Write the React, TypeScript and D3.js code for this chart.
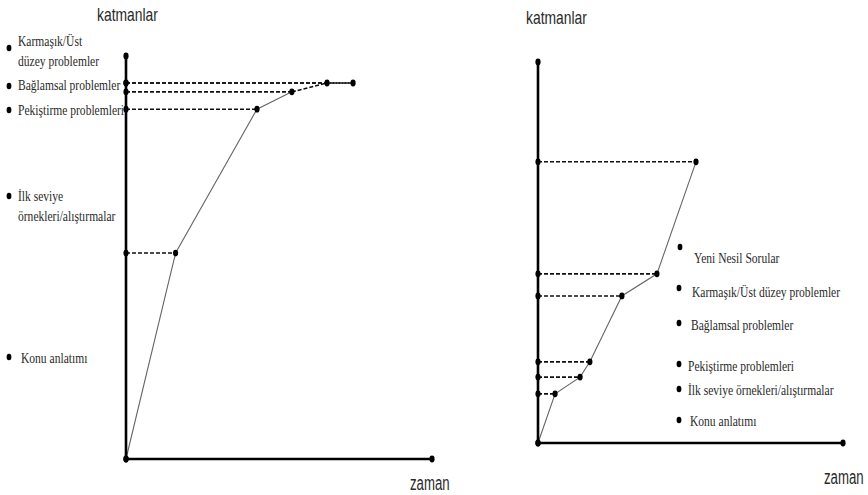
import * as d3 from 'd3';

// left panel: classic layered lesson, time vs layer (0..100 units)
const leftTime = [0, 16.2, 42.8, 54.2, 65.7, 74.2];
const leftLayer = [0, 51.1, 86.8, 91.1, 93.3, 93.3];
const leftSolidUntil = 3; // points after this index are joined by a dashed line

// right panel: with "Yeni Nesil Sorular" layer
const rightTime = [0, 5.6, 13.8, 17.0, 27.5, 39.0, 51.8];
const rightLayer = [0, 12.9, 17.3, 21.3, 38.6, 44.4, 73.8];

const leftLabels = [
  ['Karmaşık/Üst', 'düzey problemler'],
  ['Bağlamsal problemler'],
  ['Pekiştirme problemleri'],
  ['İlk seviye', 'örnekleri/alıştırmalar'],
  ['Konu anlatımı'],
];

const rightLabels = [
  'Yeni Nesil Sorular',
  'Karmaşık/Üst düzey problemler',
  'Bağlamsal problemler',
  'Pekiştirme problemleri',
  'İlk seviye örnekleri/alıştırmalar',
  'Konu anlatımı',
];

const axisTitle = 'katmanlar';
const timeTitle = 'zaman';

const W = 868;
const H = 495;
const SERIF = 'Liberation Serif';
const SANS = 'Liberation Sans';

// layout of the label columns (pixel positions of each label block)
const leftLabelPos = [
  { bx: 9, by: 48, tx: 18, ty: [46, 66] },
  { bx: 9, by: 86, tx: 18, ty: [90] },
  { bx: 9, by: 110, tx: 18, ty: [115] },
  { bx: 9, by: 196, tx: 18, ty: [201, 221] },
  { bx: 9, by: 357, tx: 21, ty: [363] },
];
const rightLabelPos = [
  { bx: 680, by: 247, tx: 694, ty: 263 },
  { bx: 679, by: 288, tx: 692, ty: 297 },
  { bx: 679, by: 323, tx: 691, ty: 330 },
  { bx: 679, by: 364, tx: 688, ty: 371 },
  { bx: 679, by: 389, tx: 688, ty: 395 },
  { bx: 679, by: 420, tx: 690, ty: 426 },
];

function Label({
  x,
  y,
  text,
  size = 15,
  family = SERIF,
  sx = 0.77,
}: {
  x: number;
  y: number;
  text: string;
  size?: number;
  family?: string;
  sx?: number;
}) {
  return (
    <text
      transform={`translate(${x},${y}) scale(${sx},1)`}
      fontFamily={family}
      fontSize={size}
      fill="#2a2a2a"
    >
      {text}
    </text>
  );
}

function Dot({ cx, cy }: { cx: number; cy: number }) {
  return <ellipse cx={cx} cy={cy} rx={2.6} ry={3.4} fill="#000" />;
}

function Panel({
  time,
  layer,
  x0,
  x1,
  y0,
  y1,
  solidUntil,
}: {
  time: number[];
  layer: number[];
  x0: number;
  x1: number;
  y0: number;
  y1: number;
  solidUntil: number;
}) {
  const x = d3.scaleLinear().domain([0, 100]).range([x0, x1]);
  const y = d3.scaleLinear().domain([0, 100]).range([y0, y1]);
  const pts = time.map((t, i) => [t, layer[i]] as [number, number]);
  const line = d3
    .line<[number, number]>()
    .x(d => x(d[0]))
    .y(d => y(d[1]));

  const solid = pts.slice(0, solidUntil + 1);
  const dashed = pts.slice(solidUntil);

  return (
    <g>
      {/* dashed guides from the layer axis to every point */}
      {pts.slice(1).map((p, i) => (
        <line
          key={'g' + i}
          x1={x(0)}
          x2={x(p[0])}
          y1={y(p[1])}
          y2={y(p[1])}
          stroke="#111"
          strokeWidth={1.6}
          strokeDasharray="4 2"
        />
      ))}
      <path d={line(solid) || ''} fill="none" stroke="#666" strokeWidth={1.1} />
      {dashed.length > 1 && (
        <path
          d={line(dashed) || ''}
          fill="none"
          stroke="#111"
          strokeWidth={1.6}
          strokeDasharray="4 2"
        />
      )}
      {/* axes */}
      <line x1={x(0)} x2={x(0)} y1={y(0)} y2={y(100)} stroke="#000" strokeWidth={2.6} />
      <line x1={x(0)} x2={x(100)} y1={y(0)} y2={y(0)} stroke="#000" strokeWidth={2.6} />
      <Dot cx={x(0)} cy={y(100)} />
      <Dot cx={x(100)} cy={y(0)} />
      {pts.map((p, i) => (
        <g key={'p' + i}>
          <Dot cx={x(0)} cy={y(p[1])} />
          <Dot cx={x(p[0])} cy={y(p[1])} />
        </g>
      ))}
    </g>
  );
}

export default function App() {
  return (
    <svg
      width={W}
      height={H}
      viewBox={`0 0 ${W} ${H}`}
      style={{ position: 'absolute', left: 0, top: 0, background: '#fff' }}
    >
      <rect width={W} height={H} fill="#fff" />

      {/* left panel */}
      <Label x={97} y={21} text={axisTitle} size={19} family={SANS} sx={0.73} />
      <Label x={410} y={490} text={timeTitle} size={20} family={SANS} sx={0.66} />
      {leftLabels.map((lines, i) => (
        <g key={'ll' + i}>
          <ellipse cx={leftLabelPos[i].bx} cy={leftLabelPos[i].by} rx={2.4} ry={3.2} fill="#000" />
          {lines.map((t, j) => (
            <Label key={j} x={leftLabelPos[i].tx} y={leftLabelPos[i].ty[j]} text={t} />
          ))}
        </g>
      ))}
      <Panel
        time={leftTime}
        layer={leftLayer}
        x0={126}
        x1={432}
        y0={459}
        y1={56}
        solidUntil={leftSolidUntil}
      />

      {/* right panel */}
      <Label x={526} y={24} text={axisTitle} size={19} family={SANS} sx={0.73} />
      <Label x={824} y={484} text={timeTitle} size={20} family={SANS} sx={0.66} />
      {rightLabels.map((t, i) => (
        <g key={'rl' + i}>
          <ellipse cx={rightLabelPos[i].bx} cy={rightLabelPos[i].by} rx={2.4} ry={3.2} fill="#000" />
          <Label x={rightLabelPos[i].tx} y={rightLabelPos[i].ty} text={t} />
        </g>
      ))}
      <Panel
        time={rightTime}
        layer={rightLayer}
        x0={538}
        x1={843}
        y0={443}
        y1={62}
        solidUntil={rightTime.length - 1}
      />
    </svg>
  );
}
